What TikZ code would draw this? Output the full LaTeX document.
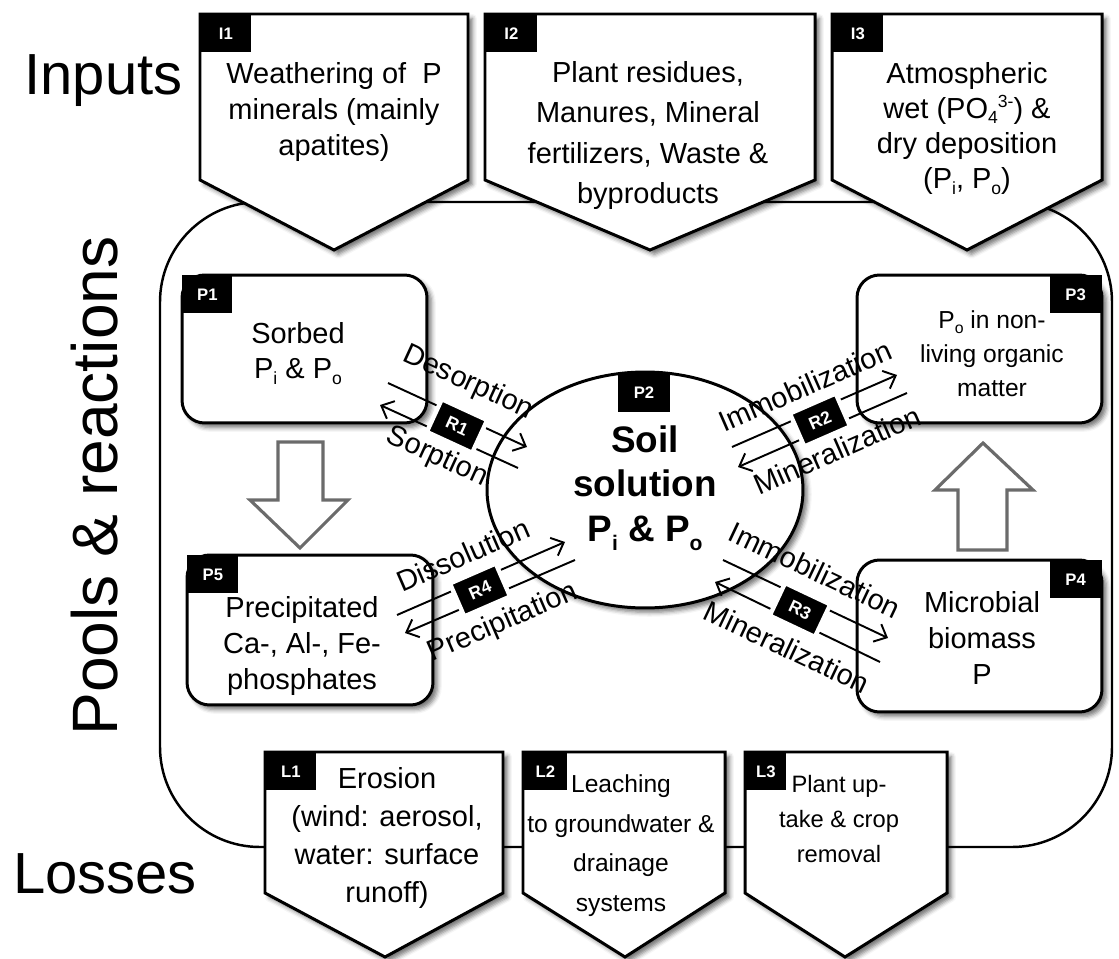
\documentclass[tikz,border=0pt]{standalone}
\usepackage{fontspec}
\setmainfont{Liberation Sans}
\usetikzlibrary{arrows.meta,shapes.geometric,shadows.blur}

% lowered / raised small text for indices
\newcommand\lowsub[3]{\raisebox{-#1}{\fontsize{#2}{#2}\selectfont #3}}
\newcommand\hisup[3]{\raisebox{#1}{\fontsize{#2}{#2}\selectfont #3}}
\newcommand\pinorg{P\lowsub{3.5pt}{10}{i}}
\newcommand\porg{P\lowsub{3.5pt}{10}{o}}

\begin{document}
\begin{tikzpicture}[x=0.02cm,y=-0.02cm,
  frame/.style={line width=1.4pt, rounded corners=2cm},
  shade/.style={blur shadow={shadow xshift=2.5pt, shadow yshift=-2.5pt, shadow blur radius=2.5pt, shadow opacity=55}},
  pent/.style={draw, line width=1.7pt, fill=white, line join=miter, shade},
  poolbox/.style={draw, line width=1.7pt, fill=white, rounded corners=0.45cm, inner sep=0pt, shade},
  tag/.style={fill=black, text=white, inner sep=0pt, font=\fontsize{9.5}{9.5}\selectfont\bfseries, minimum height=0.76cm, minimum width=1.02cm},
  body/.style={align=center, inner sep=0pt, anchor=north, font=\fontsize{16.5}{#1}\selectfont},
  body/.default=20.5pt,
  smallbody/.style={align=center, inner sep=0pt, anchor=north, font=\fontsize{14}{#1}\selectfont},
  big/.style={inner sep=0pt, anchor=base, font=\fontsize{33}{36}\selectfont},
  hollow/.style={draw=black!58, line width=1.8pt, fill=white, line join=miter},
  rxn/.style={line width=1.1pt, -{Straight Barb[length=6pt, width=11pt]}},
  rbox/.style={fill=black, draw=white, line width=2.5pt, text=white, inner sep=0pt, minimum width=1.0cm, minimum height=0.72cm, font=\fontsize{10}{10}\selectfont\bfseries},
  rlab/.style={inner sep=0pt, font=\fontsize{16.5}{18}\selectfont}
]
\useasboundingbox (0,0) rectangle (1119,959);

% section titles
\node[big] (tin) at (103.5,95) {Inputs};
\node[big, rotate=90, font=\fontsize{36.5}{40}\selectfont] (tpool) at (117,486) {Pools \& reactions};
\node[big] (tloss) at (105,893) {Losses};

% outer frame of the soil system
\draw[frame] (160,202) rectangle (1112,847);

% input boxes
\path[pent] (200,14) -- (468,14) -- (468,180) -- (334,250) -- (200,180) -- cycle;
\path[pent] (485,14) -- (815,14) -- (815,180) -- (650,250) -- (485,180) -- cycle;
\path[pent] (832,14) -- (1102,14) -- (1102,180) -- (967,250) -- (832,180) -- cycle;

% loss boxes
\path[pent] (265,752) -- (503,752) -- (503,893) -- (385,957) -- (265,893) -- cycle;
\path[pent] (523,752) -- (725,752) -- (725,893) -- (625,957) -- (523,893) -- cycle;
\path[pent] (745,752) -- (947,752) -- (947,893) -- (845,957) -- (745,893) -- cycle;

% pools
\node[poolbox, minimum width=4.9cm, minimum height=2.96cm] (p1box) at (304.5,349) {};
\node[poolbox, minimum width=4.9cm, minimum height=2.96cm] (p3box) at (979.5,349) {};
\node[poolbox, minimum width=4.92cm, minimum height=3.0cm] (p5box) at (310,630) {};
\node[poolbox, minimum width=4.9cm, minimum height=3.04cm] (p4box) at (979.5,636) {};
\node[draw, ellipse, line width=1.7pt, fill=white, inner sep=0pt, minimum width=6.32cm, minimum height=4.72cm, shade] (p2box) at (645,490) {};

% tags
\node[tag, anchor=north west] (i1tag) at (200,14) {I1};
\node[tag, anchor=north west, minimum width=1.04cm] (i2tag) at (485,14) {I2};
\node[tag, anchor=north west] (i3tag) at (832,14) {I3};
\node[tag, anchor=north west, minimum width=1.0cm] (p1tag) at (182,275) {P1};
\node[tag, anchor=north east, minimum width=1.04cm] (p3tag) at (1102,275) {P3};
\node[tag, anchor=north west] (p5tag) at (187,555) {P5};
\node[tag, anchor=north east, minimum width=1.04cm] (p4tag) at (1102,560) {P4};
\node[tag, anchor=north, minimum width=1.04cm, minimum height=0.78cm] (p2tag) at (644,373) {P2};
\node[tag, anchor=north west] (l1tag) at (265,752) {L1};
\node[tag, anchor=north west, minimum width=0.88cm] (l2tag) at (523,752) {L2};
\node[tag, anchor=north west, minimum width=0.82cm] (l3tag) at (745,752) {L3};

% box texts
\node[body=20.4pt] (i1) at (334,62) {Weathering of\ \ P\\minerals (mainly\\apatites)};
\node[body=23pt] (i2) at (648,61) {Plant residues,\\Manures, Mineral\\fertilizers, Waste \&\\byproducts};
\node[body=20pt] (i3) at (967,62) {Atmospheric\\wet (PO\lowsub{3pt}{10}{4}\hisup{6pt}{10}{3-}) \&\\dry deposition\\(\pinorg, \porg)};

\node[body=20pt] (p1) at (298,322) {Sorbed\\\pinorg\ \& \porg};
\node[smallbody=19.5pt] (p3) at (992,310) {P\lowsub{3pt}{9}{o} in non-\\living organic\\matter};
\node[body=20.4pt] (p5) at (302,596) {Precipitated\\Ca-, Al-, Fe-\\phosphates};
\node[body=20.4pt] (p4) at (982,591) {Microbial\\biomass\\P};
\node[align=center, inner sep=0pt, anchor=north, font=\fontsize{21}{25.5}\selectfont\bfseries] (p2) at (645,425)
  {Soil\\solution\\P\lowsub{5pt}{12}{i} \& P\lowsub{5pt}{12}{o}};

\node[body=21.7pt] (l1) at (387,767) {Erosion\\(wind: aerosol,\\water: surface\\runoff)};
\node[smallbody=22.7pt] (l2) at (621,774) {Leaching\\to groundwater \&\\drainage\\systems};
\node[smallbody=20pt, font=\fontsize{13.5}{20}\selectfont] (l3) at (839,775) {Plant up-\\take \& crop\\removal};

% transfers between pools
\draw[hollow] (278,442) -- (323,442) -- (323,500) -- (348,500) -- (300,548) -- (250,500) -- (278,500) -- cycle;
\draw[hollow] (958,550) -- (1007,550) -- (1007,490) -- (1033,490) -- (983,443) -- (935,490) -- (958,490) -- cycle;

% reaction R1: P1 <-> P2
\coordinate (r1a) at (388,383); \coordinate (r1b) at (527,447);
\coordinate (r1c) at (518,468); \coordinate (r1d) at (380,405);
\draw[rxn] (r1a) -- (r1b);
\draw[rxn] (r1c) -- (r1d);
\node[rbox, rotate=-24.7] (r1) at (457,426) {R1};
\node[rlab, rotate=-24.7] (r1up) at (468,383) {Desorption};
\node[rlab, rotate=-24.7] (r1dn) at (437,457) {Sorption};

% reaction R2: P2 <-> P3
\coordinate (r2a) at (732,447); \coordinate (r2b) at (897,375);
\coordinate (r2c) at (907,393); \coordinate (r2d) at (738,467);
\draw[rxn] (r2a) -- (r2b);
\draw[rxn] (r2c) -- (r2d);
\node[rbox, rotate=23.6] (r2) at (820,420) {R2};
\node[rlab, rotate=23.6] (r2up) at (805,386) {Immobilization};
\node[rlab, rotate=23.6] (r2dn) at (837,450) {Mineralization};

% reaction R3: P2 <-> P4
\coordinate (r3a) at (723,560); \coordinate (r3b) at (888,638);
\coordinate (r3c) at (880,662); \coordinate (r3d) at (715,582);
\draw[rxn] (r3a) -- (r3b);
\draw[rxn] (r3c) -- (r3d);
\node[rbox, rotate=-25.3] (r3) at (800,610) {R3};
\node[rlab, rotate=-25.3] (r3up) at (815,570) {Immobilization};
\node[rlab, rotate=-25.3] (r3dn) at (787,647) {Mineralization};

% reaction R4: P5 <-> P2
\coordinate (r4a) at (397,615); \coordinate (r4b) at (565,542);
\coordinate (r4c) at (575,560); \coordinate (r4d) at (405,633);
\draw[rxn] (r4a) -- (r4b);
\draw[rxn] (r4c) -- (r4d);
\node[rbox, rotate=23.5] (r4) at (480,590) {R4};
\node[rlab, rotate=23.5] (r4up) at (463,555) {Dissolution};
\node[rlab, rotate=23.5] (r4dn) at (503,623) {Precipitation};
\end{tikzpicture}
\end{document}
